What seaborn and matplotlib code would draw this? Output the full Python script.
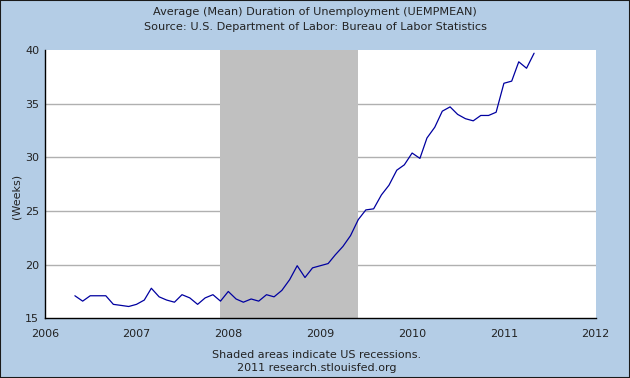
import numpy as np
import pandas as pd
import matplotlib
matplotlib.use("Agg")
import matplotlib.pyplot as plt
import seaborn as sns

months = pd.date_range("2006-05-01", "2011-05-01", freq="MS")
weeks = [17.1, 16.6, 17.1, 17.1, 17.1, 16.3, 16.2, 16.1,
         16.3, 16.7, 17.8, 17.0, 16.7, 16.5, 17.2, 16.9, 16.3, 16.9, 17.2, 16.6,
         17.5, 16.8, 16.5, 16.8, 16.6, 17.2, 17.0, 17.6, 18.6, 19.9, 18.8, 19.7,
         19.9, 20.1, 20.9, 21.7, 22.7, 24.2, 25.1, 25.2, 26.5, 27.4, 28.8, 29.3,
         30.4, 29.9, 31.8, 32.8, 34.3, 34.7, 34.0, 33.6, 33.4, 33.9, 33.9, 34.2,
         36.9, 37.1, 38.9, 38.3, 39.7]
recession_start = "2007-12-01"
recession_end = "2009-06-01"
year_ticks = [2006, 2007, 2008, 2009, 2010, 2011, 2012]
y_ticks = [15, 20, 25, 30, 35, 40]
title_lines = ["Average (Mean) Duration of Unemployment (UEMPMEAN)",
               "Source: U.S. Department of Labor: Bureau of Labor Statistics"]
footer_lines = ["Shaded areas indicate US recessions.", "2011 research.stlouisfed.org"]

df = pd.DataFrame({"date": months, "weeks": weeks})

sns.set_style("white")
plt.rcParams['font.family'] = ['DejaVu Sans']

bg = "#b4cde6"
fig = plt.figure(figsize=(6.3, 3.78), dpi=100, facecolor=bg)
ax = fig.add_axes([44.7/630, 1-318.3/378, (595.7-44.7)/630, (318.3-50)/378])
ax.set_facecolor("white")

for yv in y_ticks[1:-1]:
    ax.axhline(yv, color="#b0b0b0", lw=1, zorder=1)
ax.axvspan(pd.Timestamp(recession_start), pd.Timestamp(recession_end),
           color="#c0c0c0", zorder=2, lw=0)

sns.lineplot(data=df, x="date", y="weeks", ax=ax, color="#0000a0", lw=0.9, zorder=3)

ax.set_xlim(pd.Timestamp("2006-01-01"), pd.Timestamp("2012-01-01"))
ax.set_ylim(15, 40)
ax.set_xticks([pd.Timestamp(f"{y}-01-01") for y in year_ticks])
ax.set_xticklabels([str(y) for y in year_ticks])
ax.set_yticks(y_ticks)
ax.set_yticklabels([str(v) for v in y_ticks])
ax.tick_params(axis="both", direction="in", length=5, width=1, color="black",
               labelsize=8, labelcolor="#222222")
ax.tick_params(axis="x", pad=8)
ax.tick_params(axis="y", pad=4)
ax.set_xlabel("")
ax.set_ylabel("(Weeks)", fontsize=8, color="#222222")
ax.yaxis.set_label_coords((21 - 44.7) / 551, (318.3 - 196) / 268.3)
for s in ["top", "right"]:
    ax.spines[s].set_visible(False)
for s in ["left", "bottom"]:
    ax.spines[s].set_color("black")
    ax.spines[s].set_linewidth(1)

fig.text(0.5, 1-12/378, title_lines[0], ha="center", va="center", fontsize=8.1, color="#222222")
fig.text(0.5, 1-27/378, title_lines[1], ha="center", va="center", fontsize=8.1, color="#222222")
fig.text(317/630, 1-355/378, footer_lines[0], ha="center", va="center", fontsize=8, color="#222222")
fig.text(317/630, 1-368/378, footer_lines[1], ha="center", va="center", fontsize=8, color="#222222")

border = plt.Rectangle((0, 0), 1, 1, transform=fig.transFigure, fill=False,
                       edgecolor="#1a1a1a", lw=1.5)
fig.patches.append(border)

fig.savefig("out.png", dpi=100, facecolor=bg)
